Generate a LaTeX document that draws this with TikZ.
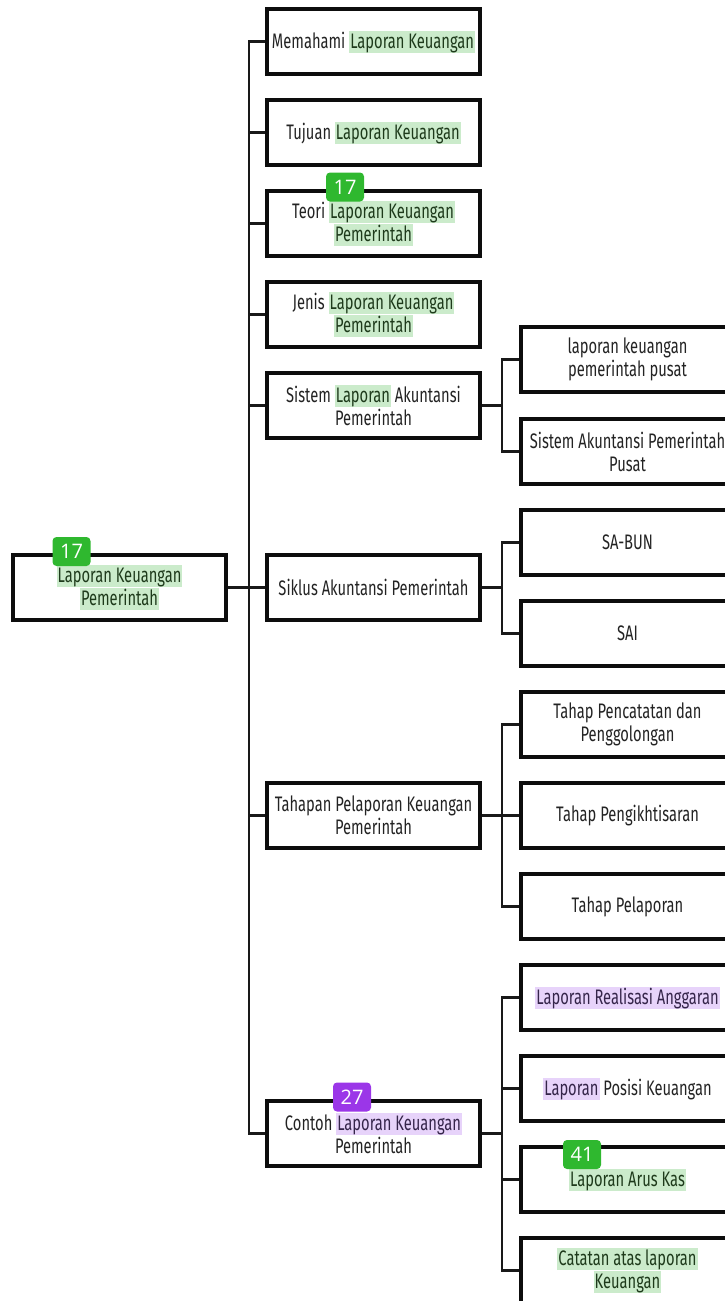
\documentclass[tikz,border=0pt]{standalone}
\usepackage{fontspec}
\setmainfont{Fira Sans}[FakeStretch=0.70]
\newfontfamily\badgefont{Open Sans}
\usetikzlibrary{positioning}

\definecolor{ink}{HTML}{232323}
\definecolor{hlgreen}{HTML}{CBEBCB}
\definecolor{hlgreentext}{HTML}{1E3A1B}
\definecolor{hlpurple}{HTML}{E7D3FA}
\definecolor{hlpurpletext}{HTML}{35254A}
\definecolor{badgegreen}{HTML}{2FB82F}
\definecolor{badgepurple}{HTML}{9B36E8}

% highlighted phrases
\newcommand\hlg[1]{{\setlength\fboxsep{0pt}\colorbox{hlgreen}{\rule[-4.5pt]{0pt}{22pt}\kern1pt\color{hlgreentext}#1\kern1pt}}}
\newcommand\hlp[1]{{\setlength\fboxsep{0pt}\colorbox{hlpurple}{\rule[-4.5pt]{0pt}{22pt}\kern1pt\color{hlpurpletext}#1\kern1pt}}}

\tikzset{
  box/.style={draw=black!95, line width=3.2pt, minimum width=213pt, minimum height=65pt,
    inner sep=0pt, align=center, text=ink,
    font=\fontsize{21pt}{23pt}\selectfont},
  link/.style={draw=black!90, line width=2.2pt},
  badge/.style={rounded corners=4pt, minimum width=38pt, minimum height=29pt, inner sep=0pt,
    text=white, font=\badgefont\fontsize{20pt}{20pt}\selectfont},
}

\begin{document}
\begin{tikzpicture}[x=1pt, y=-1pt]
\useasboundingbox (0,0) rectangle (725,1301);

% root
\node[box] (root) at (119.5,587.5) {\hlg{Laporan Keuangan}\\\hlg{Pemerintah}};

% first level
\node[box] (m1) at (373.5,41.5)   {Memahami \hlg{Laporan Keuangan}};
\node[box] (m2) at (373.5,132.5)  {Tujuan \hlg{Laporan Keuangan}};
\node[box] (m3) at (373.5,223.5)  {Teori \hlg{Laporan Keuangan}\\\hlg{Pemerintah}};
\node[box] (m4) at (373.5,314.5)  {Jenis \hlg{Laporan Keuangan}\\\hlg{Pemerintah}};
\node[box] (m5) at (373.5,405.5)  {Sistem \hlg{Laporan} Akuntansi\\Pemerintah};
\node[box] (m6) at (373.5,587.5)  {Siklus Akuntansi Pemerintah};
\node[box] (m7) at (373.5,815.5)  {Tahapan Pelaporan Keuangan\\Pemerintah};
\node[box] (m8) at (373.5,1133.5) {Contoh \hlp{Laporan Keuangan}\\Pemerintah};

% second level
\node[box] (a1) at (627.5,359.5)  {laporan keuangan\\pemerintah pusat};
\node[box] (a2) at (627.5,451.5)  {Sistem Akuntansi Pemerintah\\Pusat};
\node[box] (b1) at (627.5,542.5)  {SA-BUN};
\node[box] (b2) at (627.5,633.5)  {SAI};
\node[box] (c1) at (627.5,724.5)  {Tahap Pencatatan dan\\Penggolongan};
\node[box] (c2) at (627.5,815.5)  {Tahap Pengikhtisaran};
\node[box] (c3) at (627.5,906.5)  {Tahap Pelaporan};
\node[box] (d1) at (627.5,997.5)  {\hlp{Laporan Realisasi Anggaran}};
\node[box] (d2) at (627.5,1088.5) {\hlp{Laporan} Posisi Keuangan};
\node[box] (d3) at (627.5,1179.5) {\hlg{Laporan Arus Kas}};
\node[box] (d4) at (627.5,1270.5) {\hlg{Catatan atas laporan}\\\hlg{Keuangan}};

% connectors: root to first level
\draw[link] (root.east) -- ++(21,0) coordinate (j0);
\foreach \n in {m1,m2,m3,m4,m5,m6,m7,m8}
  \draw[link] (j0) |- (\n.west);

% connectors: first level to second level
\draw[link] (m5.east) -- ++(20,0) coordinate (j5);
\foreach \n in {a1,a2} \draw[link] (j5) |- (\n.west);
\draw[link] (m6.east) -- ++(20,0) coordinate (j6);
\foreach \n in {b1,b2} \draw[link] (j6) |- (\n.west);
\draw[link] (m7.east) -- ++(20,0) coordinate (j7);
\foreach \n in {c1,c2,c3} \draw[link] (j7) |- (\n.west);
\draw[link] (m8.east) -- ++(20,0) coordinate (j8);
\foreach \n in {d1,d2,d3,d4} \draw[link] (j8) |- (\n.west);

% count badges
\node[badge, fill=badgegreen]  (k1) at (71.5,551.5)  {17};
\node[badge, fill=badgegreen]  (k2) at (345,187)     {17};
\node[badge, fill=badgepurple] (k3) at (352,1097)    {27};
\node[badge, fill=badgegreen]  (k4) at (582,1154.5)  {41};
\end{tikzpicture}
\end{document}
